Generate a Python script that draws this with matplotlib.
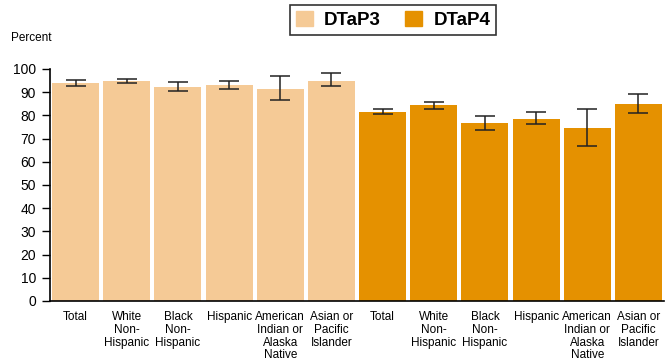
import matplotlib.pyplot as plt
import matplotlib.patches as mpatches

groups = ["Total", "White\nNon-\nHispanic", "Black\nNon-\nHispanic", "Hispanic",
          "American\nIndian or\nAlaska\nNative", "Asian or\nPacific\nIslander"]

dtap3 = [94.0, 95.0, 92.3, 93.1, 91.5, 95.0]
dtap3_lo = [92.7, 94.1, 90.7, 91.5, 86.6, 92.7]
dtap3_hi = [95.3, 95.8, 94.3, 94.7, 96.9, 98.1]

dtap4 = [81.5, 84.5, 76.7, 78.4, 74.6, 84.9]
dtap4_lo = [80.7, 82.9, 73.7, 76.4, 66.7, 81.2]
dtap4_hi = [82.9, 85.6, 79.9, 81.3, 82.8, 89.4]

c3 = "#F5CA96"
c4 = "#E59100"

plt.rcParams['font.family'] = ['Liberation Sans', 'DejaVu Sans']

fig = plt.figure(figsize=(6.71, 3.60), dpi=100)
ax = fig.add_axes([50 / 671, 59 / 360, 614 / 671, 232 / 360])

vals = dtap3 + dtap4
lo = dtap3_lo + dtap4_lo
hi = dtap3_hi + dtap4_hi
cols = [c3] * len(dtap3) + [c4] * len(dtap4)
x = list(range(len(vals)))
yerr = [[v - l for v, l in zip(vals, lo)], [h - v for v, h in zip(vals, hi)]]

ax.bar(x, vals, width=0.92, color=cols, zorder=2)
ax.errorbar(x, vals, yerr=yerr, fmt='none', ecolor='#222222', elinewidth=1.1,
            capsize=7, capthick=1.1, zorder=3)

ax.set_xlim(-0.5, len(vals) - 0.5)
ax.set_ylim(0, 100)
ax.set_yticks(range(0, 101, 10))
ax.tick_params(axis='y', labelsize=10, length=6, width=1, pad=4)
ax.set_xticks(x)
ax.set_xticklabels(groups + groups, fontsize=8.5, va='top', linespacing=1.1)
ax.tick_params(axis='x', length=0, pad=7)
for s in ['top', 'right']:
    ax.spines[s].set_visible(False)
ax.spines['left'].set_linewidth(1.2)
ax.spines['bottom'].set_linewidth(1.2)

fig.text(11 / 671, 1 - 38 / 360, "Percent", fontsize=8.5, va='center', ha='left')

handles = [mpatches.Patch(color=c3, label="DTaP3"), mpatches.Patch(color=c4, label="DTaP4")]
leg = fig.legend(handles=handles, loc='center', bbox_to_anchor=(393 / 671, 1 - 20 / 360),
                 ncol=2, frameon=True, fancybox=False, edgecolor='black',
                 prop={'weight': 'bold', 'size': 13.5}, handlelength=0.9, handleheight=0.9,
                 handletextpad=0.6, columnspacing=1.3, borderpad=0.3)
leg.get_frame().set_linewidth(1.2)

fig.savefig("out.png", dpi=100)
